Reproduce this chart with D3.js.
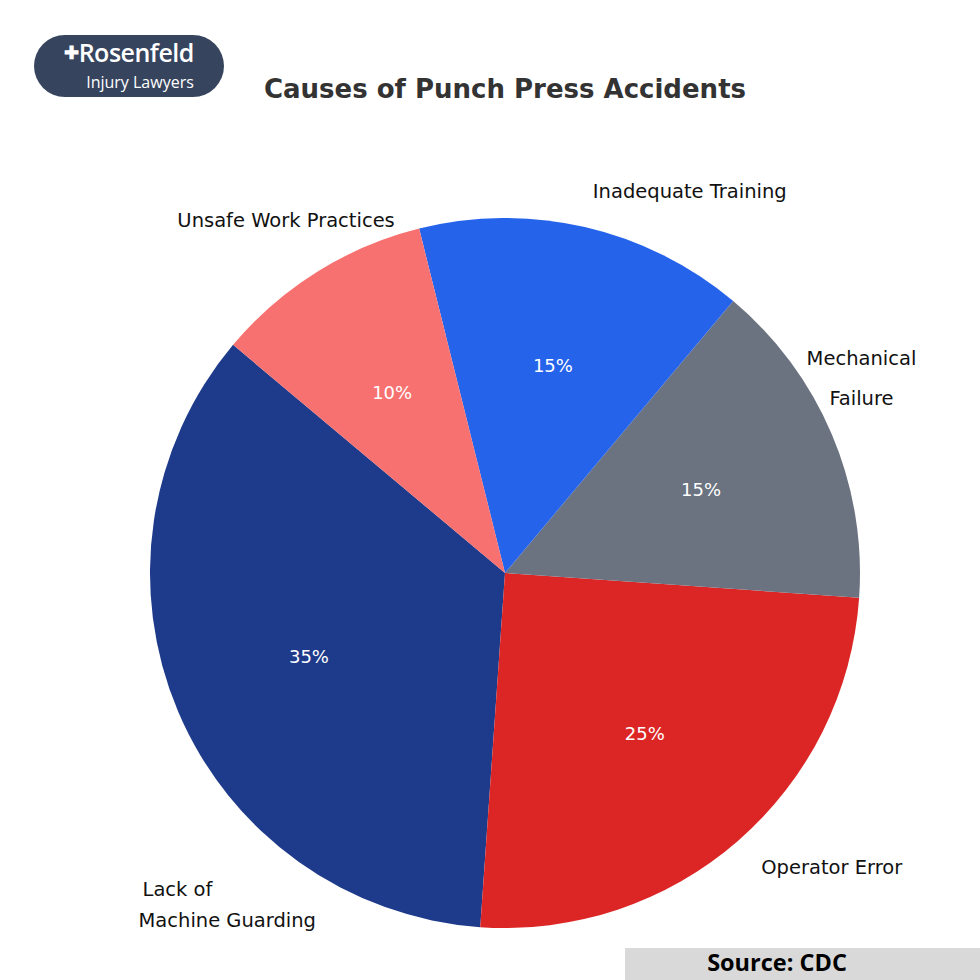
<!DOCTYPE html>
<html><head><meta charset="utf-8">
<script src="https://cdn.jsdelivr.net/npm/d3@7"></script>
<style>html,body{margin:0;padding:0;background:#fff;}svg{display:block;}</style>
</head><body>
<script>
const categories = ["Lack of\nMachine Guarding","Operator Error","Mechanical\nFailure","Inadequate Training","Unsafe Work Practices"];
const values = [35, 25, 15, 15, 10];
const colors = ["#1e3a8a","#dc2626","#6b7280","#2563eb","#f87171"];
const titleText = "Causes of Punch Press Accidents";
const sourceText = "Source: CDC";

// layout config (label placement: angle-based with small nudges)
const labelLayout = [
  {r:1.1, dx:-7, dy:179, anchor:"start", lh:31},
  {r:1.1, dx:0, dy:-1, anchor:"start", lh:31},
  {r:1.1, dx:-3, dy:-42, anchor:"middle", lh:40},
  {r:1.1, dx:0, dy:-1, anchor:"start", lh:31},
  {r:1.1, dx:-12, dy:-22, anchor:"middle", lh:31}
];

const W=980,H=980, cx=505, cy=573, R=355;
const svg=d3.select("body").append("svg").attr("width",W).attr("height",H);
svg.append("rect").attr("width",W).attr("height",H).attr("fill","#fff");

// logo
const logo=svg.append("g");
logo.append("rect").attr("x",34).attr("y",35).attr("width",190).attr("height",62).attr("rx",31).attr("fill","#36445e");
logo.append("text").attr("x",129).attr("y",62).attr("text-anchor","middle").attr("font-family","Open Sans, sans-serif").attr("font-size",25).attr("font-weight",600).attr("letter-spacing",-0.5).attr("fill","#fff")
  .call(t=>{t.append("tspan").attr("font-size",18).attr("dy",-3).text("✚");t.append("tspan").attr("dy",3).text("Rosenfeld");});
logo.append("text").attr("x",140).attr("y",88).attr("text-anchor","middle").attr("font-family","Open Sans, sans-serif").attr("font-size",16).attr("fill","#fff").text("Injury Lawyers");

svg.append("text").attr("x",505).attr("y",98).attr("text-anchor","middle")
  .attr("font-family","DejaVu Sans, sans-serif").attr("font-weight","bold").attr("font-size",26).attr("fill","#333").text(titleText);

// pie: start at math angle 140deg, counterclockwise
const deg=Math.PI/180;
const start=(90-140)*deg;
const pie=d3.pie().sort(null).value(d=>d.v).startAngle(start).endAngle(start-2*Math.PI);
const data=categories.map((c,i)=>({c,v:values[i],col:colors[i],i}));
const arcs=pie(data);
const arc=d3.arc().innerRadius(0).outerRadius(R);
const g=svg.append("g").attr("transform",`translate(${cx},${cy})`);
g.selectAll("path").data(arcs).join("path").attr("d",arc).attr("fill",d=>d.data.col);

g.selectAll("text.pct").data(arcs).join("text").attr("class","pct")
  .attr("transform",d=>{const a=(d.startAngle+d.endAngle)/2;return `translate(${Math.sin(a)*R*0.6},${-Math.cos(a)*R*0.6})`;})
  .attr("text-anchor","middle").attr("dy","0.35em")
  .attr("font-family","DejaVu Sans, sans-serif").attr("font-size",18).attr("fill","#fff")
  .text(d=>d.data.v+"%");

arcs.forEach((d,i)=>{
  const L=labelLayout[i];
  const a=(d.startAngle+d.endAngle)/2;
  const x=Math.sin(a)*R*L.r+L.dx, y=-Math.cos(a)*R*L.r+L.dy;
  const lines=d.data.c.split("\n");
  const t=g.append("text").attr("text-anchor",L.anchor)
    .attr("font-family","DejaVu Sans, sans-serif").attr("font-size",19.5).attr("fill","#111");
  const off=-(lines.length-1)*L.lh/2;
  lines.forEach((ln,j)=>{
    t.append("tspan").attr("x",x+(i===0&&j===0?4:0)).attr("y",y+off+j*L.lh).attr("dy","0.35em").text(ln);
  });
});

// source box
svg.append("rect").attr("x",625).attr("y",948).attr("width",355).attr("height",32).attr("fill","#d9d9d9");
svg.append("text").attr("x",777).attr("y",971).attr("text-anchor","middle").attr("font-family","Open Sans, sans-serif")
  .attr("font-weight","bold").attr("font-size",23.5).attr("fill","#000").text(sourceText);
</script>
</body></html>
